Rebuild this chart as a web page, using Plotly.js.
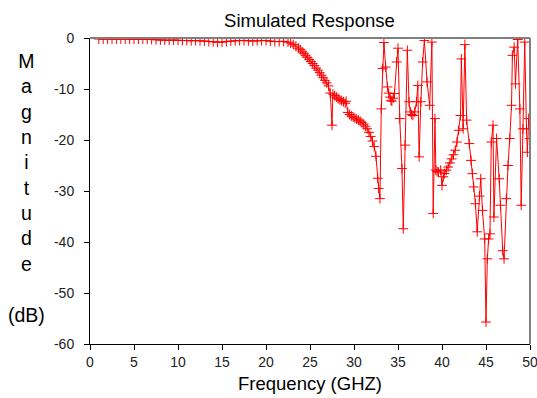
<!DOCTYPE html>
<html>
<head>
<meta charset="utf-8">
<script src="https://cdn.plot.ly/plotly-3.0.1.min.js"></script>
<style>html,body{margin:0;padding:0;background:#fff}#chart{width:537px;height:398px}</style>
</head>
<body>
<div id="chart"></div>
<script>
const freqGHz = [
  1.0,1.5,2.0,2.5,3.0,3.5,4.0,4.5,5.0,5.5,6.0,6.5,7.0,7.5,8.0,8.5,9.0,9.5,10.0,10.5,
  11.0,11.5,12.0,12.5,13.0,13.5,14.0,14.5,15.0,15.5,16.0,16.5,17.0,17.5,18.0,18.5,19.0,19.5,20.0,20.5,
  21.0,21.5,22.0,22.5,22.8,23.1,23.4,23.7,23.9,24.1,24.3,24.5,24.7,24.9,25.1,25.3,25.5,25.7,25.9,26.1,
  26.3,26.5,26.7,26.9,27.1,27.3,27.5,27.6,27.8,28.0,28.2,28.4,28.6,28.8,29.0,29.1,29.3,29.5,29.7,29.9,
  30.1,30.3,30.5,30.7,30.9,31.1,31.3,31.5,31.7,31.9,32.1,32.3,32.5,32.7,32.8,32.95,33.1,33.25,33.4,33.6,
  33.8,33.95,34.1,34.2,34.3,34.45,34.6,34.85,35.0,35.2,35.45,35.6,35.8,36.06,36.25,36.4,36.55,36.7,36.9,37.1,
  37.25,37.4,37.6,37.8,38.0,38.3,38.6,38.85,39.0,39.2,39.3,39.45,39.6,39.85,40.0,40.15,40.3,40.5,40.7,40.9,
  41.1,41.3,41.5,41.7,41.9,42.1,42.2,42.4,42.6,42.8,43.1,43.3,43.45,43.6,43.8,44.0,44.25,44.4,44.6,44.85,
  45.0,45.15,45.3,45.45,45.6,45.8,45.9,46.2,46.5,46.65,46.9,47.05,47.3,47.5,47.7,47.9,48.0,48.2,48.35,48.6,
  48.85,49.0,49.2,49.4,49.6,49.7,49.85,50.0
];
const magnitudeDB = [
  -0.2,-0.2,-0.2,-0.2,-0.2,-0.2,-0.2,-0.2,-0.2,-0.2,-0.2,-0.25,-0.3,-0.35,-0.4,-0.4,-0.45,-0.4,-0.45,-0.5,
  -0.5,-0.55,-0.5,-0.55,-0.6,-0.7,-0.75,-0.85,-0.8,-0.7,-0.6,-0.55,-0.5,-0.5,-0.55,-0.6,-0.55,-0.5,-0.5,-0.6,
  -0.7,-0.7,-0.65,-0.8,-1.0,-1.3,-1.6,-2.0,-2.3,-2.7,-3.0,-3.4,-3.8,-4.2,-4.6,-5.0,-5.4,-5.9,-6.3,-6.8,
  -7.3,-7.8,-8.3,-8.8,-9.4,-10.8,-17.1,-11.0,-11.3,-11.6,-11.9,-12.1,-12.3,-12.5,-12.8,-12.4,-14.6,-15.0,-15.3,-15.5,
  -15.7,-15.9,-16.1,-16.3,-16.6,-16.9,-17.3,-17.8,-18.5,-19.3,-20.2,-21.3,-23.2,-27.5,-29.5,-31.5,-13.9,-6.0,-0.9,-5.7,
  -9.6,-10.8,-11.6,-12.2,-12.4,-11.8,-10.9,-4.7,-2.0,-15.8,-25.6,-37.4,-21.0,-2.4,-12.5,-14.5,-15.0,-15.2,-14.5,-12.5,
  -9.3,-23.3,-12.5,-4.7,-0.5,-8.6,-13.2,-0.8,-34.4,-15.8,-25.9,-26.2,-26.3,-25.9,-28.9,-27.2,-26.6,-25.9,-25.3,-24.5,
  -23.7,-22.9,-22.0,-20.4,-18.1,-15.2,-4.1,-17.8,-1.3,-16.1,-20.7,-24.0,-26.6,-29.2,-32.5,-38.0,-31.0,-27.6,-33.8,-39.4,
  -55.7,-43.3,-39.4,-38.4,-20.4,-17.1,-35.1,-19.7,-27.6,-32.8,-41.7,-43.3,-31.5,-25.0,-19.7,-13.2,-3.4,-1.8,-9.0,-0.3,
  -13.9,-32.8,-17.8,-0.8,-17.8,-22.4,-15.8,-19.7
];
const xTicks = [0,5,10,15,20,25,30,35,40,45,50];
const yTicks = [0,-10,-20,-30,-40,-50,-60];
const chartTitle = "Simulated Response";
const xTitle = "Frequency (GHZ)";
const yTitleLetters = ["M","a","g","n","i","t","u","d","e","","(dB)"];

const font = "Liberation Sans, Arial, sans-serif";
const trace = {
  x: freqGHz, y: magnitudeDB, type: "scatter", mode: "lines+markers",
  line: {color: "#ff0000", width: 1},
  marker: {symbol: "cross-thin", size: 7, line: {color: "#ff0000", width: 1}},
  hoverinfo: "none"
};
const layout = {
  width: 537, height: 398,
  margin: {l: 90, r: 7, t: 38, b: 54, pad: 0},
  paper_bgcolor: "#fff", plot_bgcolor: "#fff",
  showlegend: false,
  font: {family: font, color: "#000"},
  title: {text: chartTitle, font: {size: 18.5, family: font, color: "#000"}, x: 0.5762, xanchor: "center", y: 0.948, yanchor: "middle"},
  xaxis: {
    range: [0, 50], tickvals: xTicks, ticktext: xTicks.map(String),
    showgrid: false, zeroline: false, showline: true, linecolor: "#000", linewidth: 1,
    ticks: "outside", ticklen: 5, tickcolor: "#000", tickfont: {size: 14, color: "#222"},
    ticklabeloverflow: "allow",
    title: {text: xTitle, font: {size: 18.5, color: "#000"}, standoff: 8}
  },
  yaxis: {
    range: [-60, 0], tickvals: yTicks, ticktext: yTicks.map(String),
    showgrid: false, zeroline: false, showline: true, linecolor: "#000", linewidth: 1,
    ticks: "outside", ticklen: 5, tickcolor: "#000", tickfont: {size: 14, color: "#222"},
    ticklabelstandoff: 7, ticklabeloverflow: "allow"
  },
  shapes: [
    {type: "line", xref: "paper", yref: "paper", x0: 0, x1: 1, y0: 1, y1: 1, line: {color: "#808080", width: 2}},
    {type: "line", xref: "paper", yref: "paper", x0: 1, x1: 1, y0: 0, y1: 1, line: {color: "#808080", width: 2}}
  ],
  annotations: [{
    xref: "paper", yref: "paper", x: -0.145, y: 0.967, xanchor: "center", yanchor: "top",
    text: yTitleLetters.join("<br>"), showarrow: false, align: "center",
    font: {size: 19.5, family: font, color: "#000"}
  }]
};
Plotly.newPlot("chart", [trace], layout, {displayModeBar: false, staticPlot: true});
</script>
</body>
</html>
